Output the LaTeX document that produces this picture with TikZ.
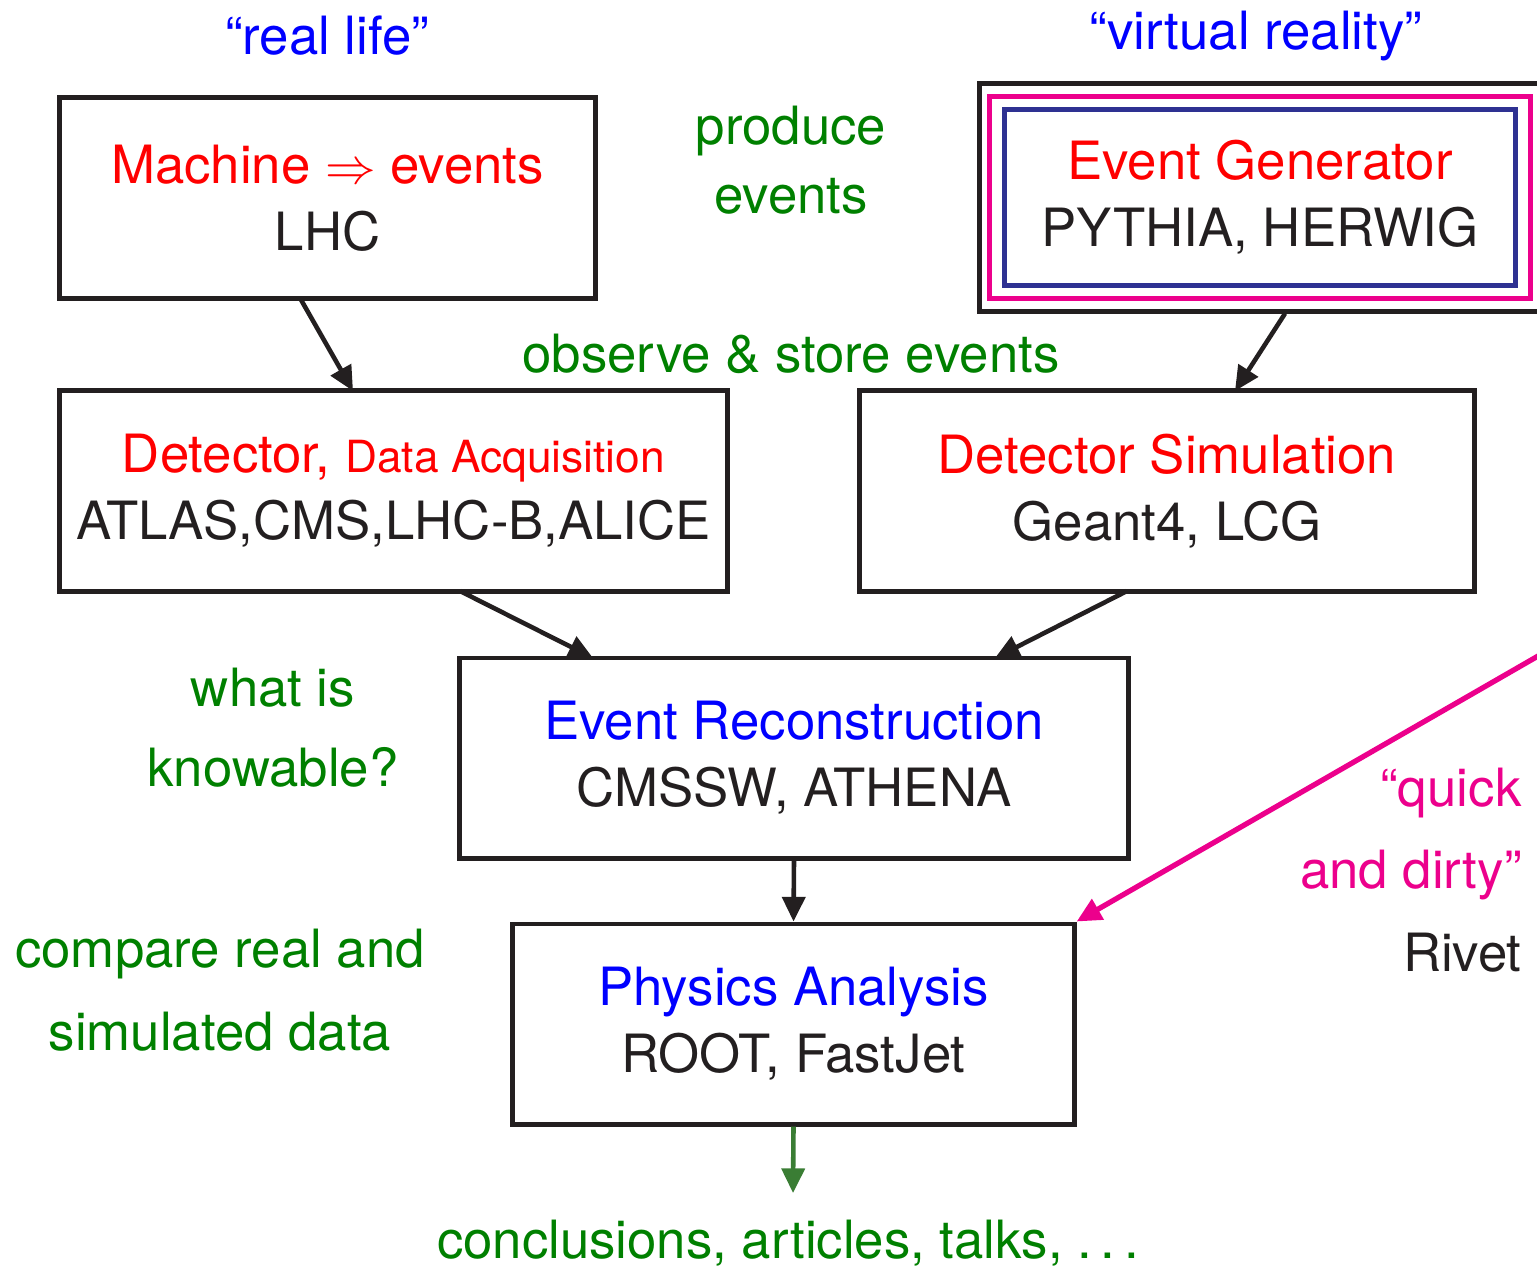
\documentclass[tikz,border=0pt]{standalone}
\usepackage{fontspec}
\setmainfont{TeX Gyre Heros}
\usepackage{amsmath, amssymb}
\usepackage{tikz}
\usetikzlibrary{arrows.meta}

\definecolor{evgreen}{RGB}{0,128,0}
\definecolor{evpink}{RGB}{236,0,140}
\definecolor{evnavy}{RGB}{46,49,146}
\definecolor{evdark}{RGB}{35,31,32}
\definecolor{evarrow}{RGB}{58,125,52}

\begin{document}
\begin{tikzpicture}[x=0.01cm, y=-0.01cm,
  every node/.style={font=\fontsize{15}{19}\selectfont, text=evdark},
  >={Triangle[length=7pt, width=6.5pt]},
  box/.style={draw=evdark, line width=1.4pt, align=center, inner sep=0pt, minimum height=2cm},
  note/.style={text=evgreen, align=center},
  flow/.style={->, draw=evdark, line width=1.3pt}]
  \useasboundingbox (0,0) rectangle (1537,1266);
  \node[text=blue, anchor=base] (real) at (327,54) {``real life''};
  \node[text=blue, anchor=base] (virt) at (1256,49) {``virtual reality''};
  \node[box, minimum width=5.35cm] (lhc) at (327.5,198) {\textcolor{red}{Machine $\Rightarrow$ events}\\LHC};
  \node[box, minimum width=5.63cm, minimum height=2.27cm] (genout) at (1261.5,197.5) {};
  \node[box, draw=evpink, minimum width=5.40cm, minimum height=2.01cm] (genmid) at (1260,197.5) {};
  \node[box, draw=evnavy, minimum width=5.10cm, minimum height=1.75cm] (gen) at (1260,197.5) {\textcolor{red}{Event Generator}\\PYTHIA, HERWIG};
  \node[note, font=\fontsize{15}{19.6}\selectfont] (prod) at (791,160) {produce\\events};
  \node[note, anchor=base] (obs) at (791,372) {observe \& store events};
  \node[box, minimum width=6.67cm] (det) at (393.5,491) {\textcolor{red}{Detector, {\fontsize{12.6}{15}\selectfont Data Acquisition}}\\ATLAS,CMS,LHC-B,ALICE};
  \node[box, minimum width=6.14cm] (sim) at (1167,491) {\textcolor{red}{Detector Simulation}\\Geant4, LCG};
  \node[box, minimum width=6.68cm] (reco) at (794,758) {\textcolor{blue}{Event Reconstruction}\\CMSSW, ATHENA};
  \node[note, font=\fontsize{15}{22.8}\selectfont] (know) at (273,728) {what is\\knowable?};
  \node[box, minimum width=5.61cm] (phys) at (793.5,1024) {\textcolor{blue}{Physics Analysis}\\ROOT, FastJet};
  \node[note, font=\fontsize{15}{23.6}\selectfont] (comp) at (220,990) {compare real and\\simulated data};
  \node[align=right, anchor=east, font=\fontsize{15}{23.5}\selectfont] (quick) at (1534,870) {\textcolor{evpink}{``quick}\\\textcolor{evpink}{and dirty''}\\Rivet};
  \node[note, anchor=base] (concl) at (788,1258) {conclusions, articles, talks, .\,.\,.};
  \coordinate (qd) at (1545,652);
  % connectors
  \draw[flow] (300,298) -- (353,391);
  \draw[flow] (genout.south -| 1285,0) -- (1235,391);
  \draw[flow] (460,591) -- (593,658);
  \draw[flow] (1127,591) -- (995,658);
  \draw[flow] (reco.south) -- (phys.north);
  \draw[flow, draw=evpink, line width=1.5pt] (qd) -- (phys.north east);
  \draw[flow, draw=evarrow] (phys.south) -- (793,1193);
\end{tikzpicture}
\end{document}
